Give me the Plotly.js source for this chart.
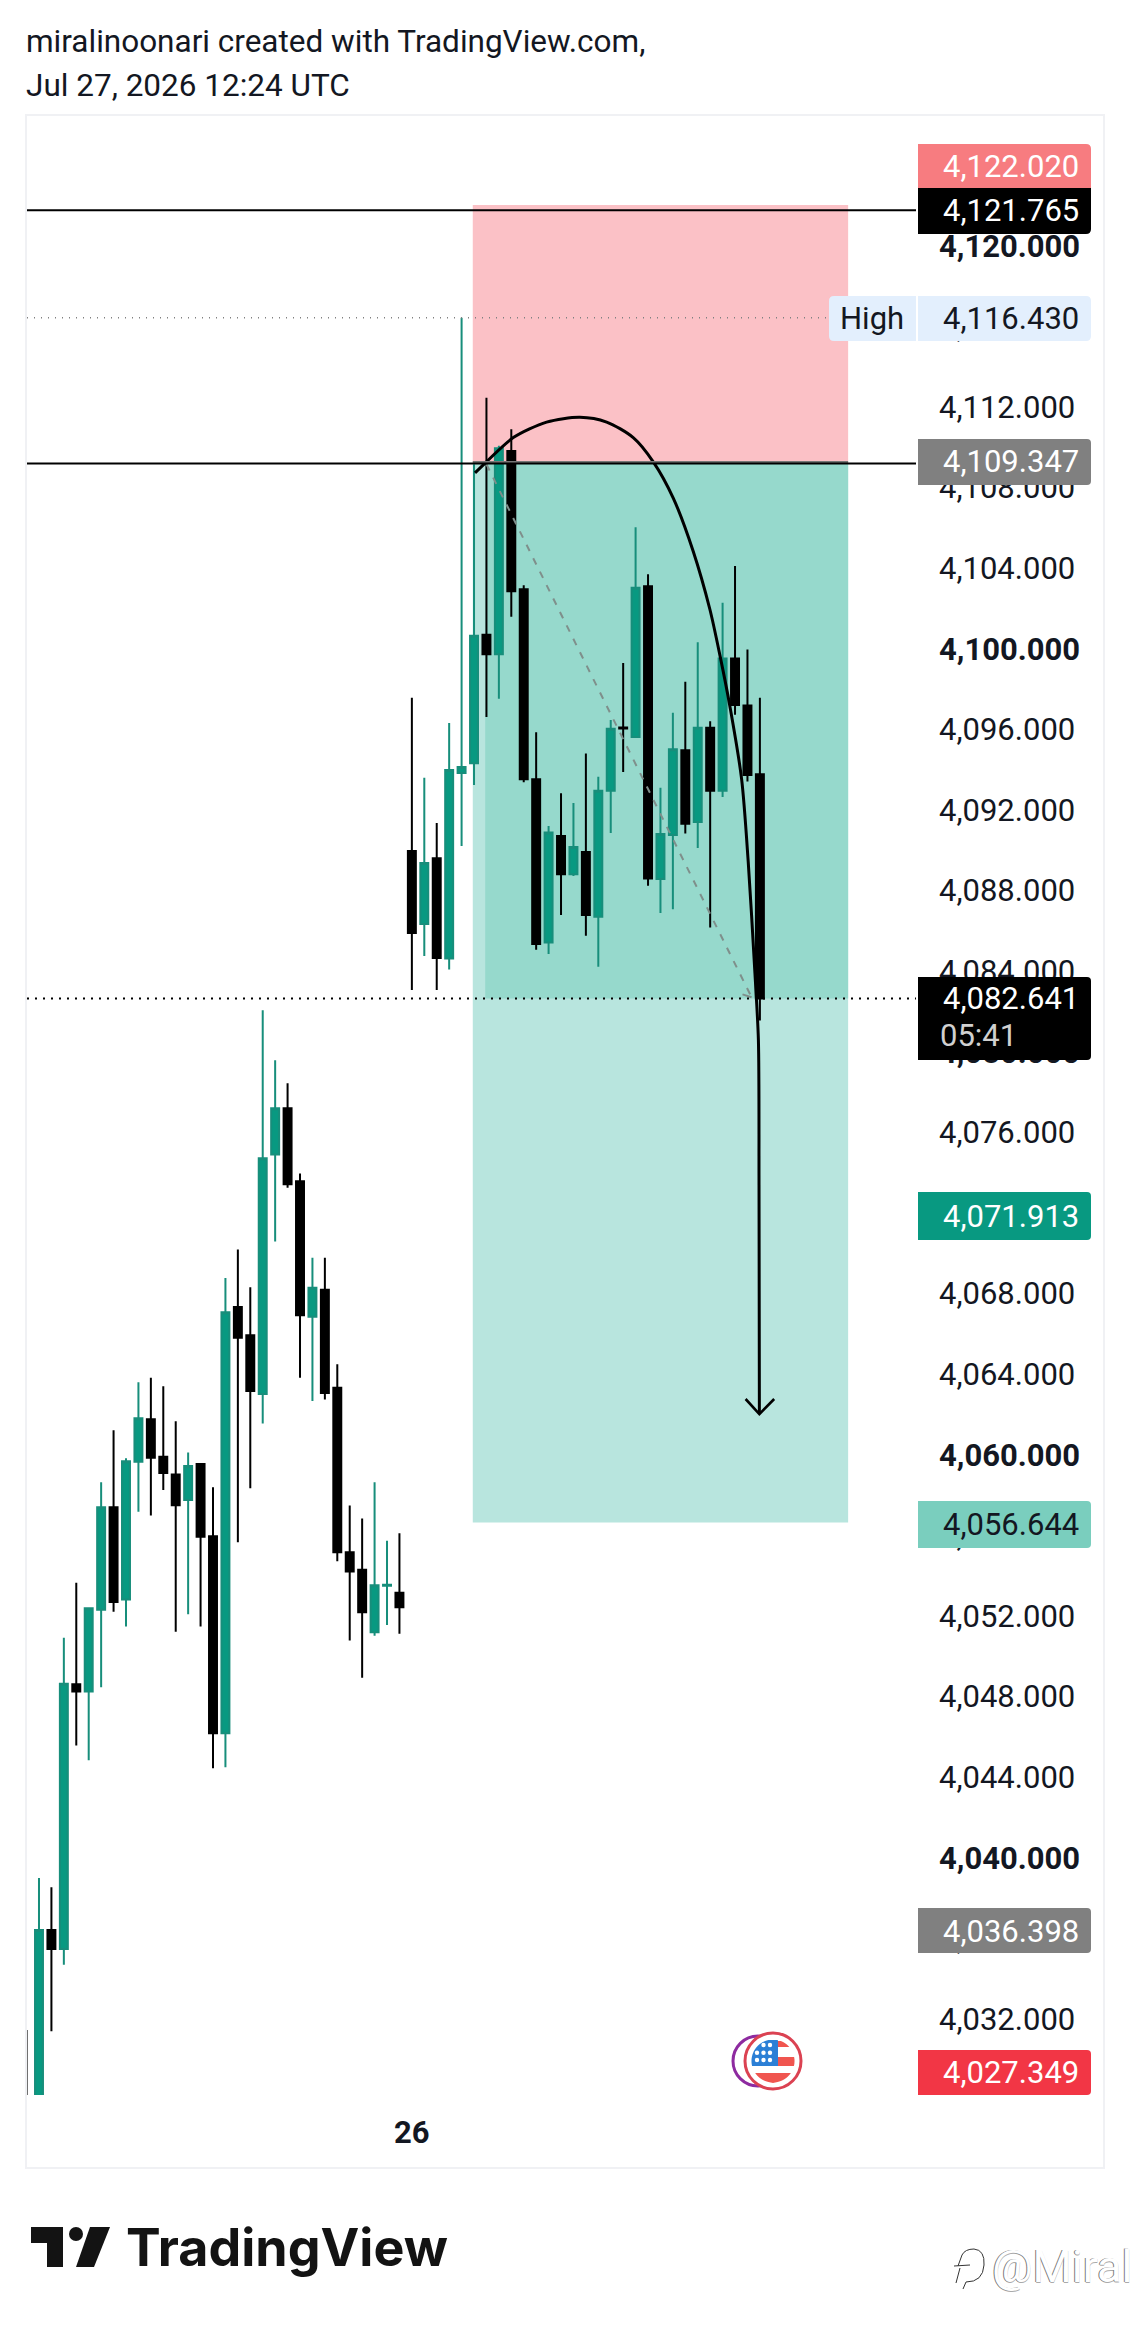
<!DOCTYPE html>
<html><head><meta charset="utf-8">
<script src="https://cdn.plot.ly/plotly-3.0.1.min.js"></script>
<style>html,body{margin:0;padding:0;background:#fff}</style></head>
<body><div id="chart" style="width:1131px;height:2327px"></div>
<script>
const firstIndex = -1;
const openPrices = [4027.5,4027.35,4036.42,4035.48,4048.62,4048.26,4052.31,4057.40,4052.82,4059.66,4061.76,4059.91,4059.02,4057.76,4059.55,4055.96,4046.18,4067.33,4065.93,4063.02,4074.90,4077.20,4073.58,4066.85,4068.19,4063.33,4055.17,4054.29,4051.20,4053.50,4053.15,4089.97,4086.34,4089.61,4084.63,4093.84,4094.32,4100.70,4099.73,4109.81,4102.96,4093.53,4085.42,4090.71,4088.81,4089.92,4086.70,4092.95,4096.10,4095.62,4103.10,4088.57,4090.76,4094.97,4091.41,4096.08,4092.95,4099.52,4097.18,4093.77];
const highPrices = [4031.45,4039.00,4038.54,4050.92,4053.65,4052.44,4058.64,4061.22,4059.83,4063.60,4063.83,4063.40,4061.66,4060.11,4059.55,4058.39,4068.77,4070.19,4068.31,4082.06,4079.58,4078.44,4073.96,4069.78,4069.78,4064.49,4057.48,4056.84,4058.64,4055.73,4056.11,4097.57,4093.60,4091.36,4096.32,4116.43,4109.16,4112.46,4110.07,4110.89,4103.15,4095.86,4091.20,4092.83,4092.35,4094.80,4093.65,4096.46,4099.30,4106.03,4103.70,4093.10,4096.82,4098.36,4100.33,4096.41,4102.28,4104.11,4099.97,4097.57];
const lowPrices = [4027.0,4027.35,4031.39,4034.69,4045.58,4044.84,4048.46,4052.21,4051.48,4057.17,4056.99,4058.26,4051.22,4052.09,4051.48,4044.44,4044.49,4055.66,4058.34,4061.55,4070.59,4073.25,4063.83,4062.67,4062.74,4054.72,4050.79,4048.94,4051.02,4051.55,4051.12,4083.07,4084.75,4083.07,4084.08,4090.21,4093.24,4096.61,4097.52,4101.59,4093.38,4085.06,4084.85,4086.79,4088.72,4085.76,4084.22,4090.86,4093.89,4095.62,4088.24,4086.89,4087.08,4090.83,4090.11,4086.17,4092.64,4096.73,4093.41,4081.55];
const closePrices = [4027.0,4036.42,4035.48,4048.64,4048.26,4052.39,4057.40,4052.69,4059.68,4061.81,4059.86,4059.10,4057.50,4059.45,4055.93,4046.18,4067.07,4065.81,4063.17,4074.72,4077.20,4073.43,4066.92,4068.29,4063.07,4055.17,4054.21,4052.19,4053.53,4053.55,4052.44,4085.90,4089.37,4084.65,4093.99,4094.13,4100.65,4099.73,4109.95,4102.86,4093.53,4085.35,4090.88,4088.81,4090.16,4086.79,4092.95,4096.03,4096.05,4103.03,4088.60,4090.81,4095.02,4091.32,4096.08,4092.95,4099.52,4097.21,4093.74,4082.641];

const tickPrices = [4032,4036,4040,4044,4048,4052,4056,4060,4064,4068,4072,4076,4080,4084,4088,4092,4096,4100,4104,4108,4112,4116,4120];
const boldTicks = [4040,4060,4080,4100,4120];

const stopPrice = 4122.020, entryPrice = 4109.347, targetPrice = 4056.644, lastPrice = 4082.641, dayHigh = 4116.430, upperLine = 4121.765;
const entryLevelDrawn = 4109.20;
const toolStart = 34.9, toolProfitStart = 35.9, toolEnd = 65.1;

const curveIndex = [35.08,36.0,38.16,40.84,43.52,45.67,47.81,49.42,51.03,52.64,53.98,54.79,55.59,56.53,57.06,57.6,57.88,57.93,57.96];
const curvePrice = [4108.73,4109.28,4110.48,4111.25,4111.49,4111.25,4110.48,4109.28,4107.48,4104.83,4101.95,4099.66,4097.14,4093.53,4089.44,4083.91,4080.59,4073.39,4062.02];
const arrowIndex = [56.85,57.96,59.15];
const arrowPrice = [4062.77,4062.02,4062.77];
const dashIndex = [36.0,57.33];
const dashPrice = [4109.16,4082.71];
const dashTipIndex = [56.6,57.33];
const dashTipPrice = [4082.85,4082.71];
const starX = [757,763.5,770];
const starY = [2045,2052.7,2060];

const L=27,R=916,T=115,B=2095;
const px = v => (v-L)/(R-L);
const py = v => (B-v)/(B-T);
const P = pts => 'M'+pts.map(p=>px(p[0])+','+py(p[1])).join('L')+'Z';
const FONT='Roboto, sans-serif';
function round(x0,y0,x1,y1,rTL,rTR,rBR,rBL){
  const c=(x,y)=>px(x)+','+py(y);
  return 'M'+c(x0+rTL,y0)+'L'+c(x1-rTR,y0)+'Q'+c(x1,y0)+' '+c(x1,y0+rTR)+'L'+c(x1,y1-rBR)+'Q'+c(x1,y1)+' '+c(x1-rBR,y1)+'L'+c(x0+rBL,y1)+'Q'+c(x0,y1)+' '+c(x0,y1-rBL)+'L'+c(x0,y0+rTL)+'Q'+c(x0,y0)+' '+c(x0+rTL,y0)+'Z';
}
const box=(x0,y0,x1,y1,color,rs)=>({type:'path',xref:'paper',yref:'paper',layer:'above',path:round(x0,y0,x1,y1,...(rs||[0,4,4,0])),fillcolor:color,line:{width:0}});
const disc=(cx,cy,r,fill,stroke,w)=>({type:'circle',xref:'paper',yref:'paper',layer:'above',x0:px(cx-r),x1:px(cx+r),y0:py(cy-r),y1:py(cy+r),fillcolor:fill,line:{color:stroke,width:w}});
const seg=(cx,cy,r,rect,color)=>{
  const [x0,y0,x1,y1]=rect, pts=[];
  for(let y=y0;y<=y1;y+=1){const h=Math.sqrt(Math.max(0,r*r-(y-cy)*(y-cy)));pts.push([Math.min(x1,cx+h),y]);}
  for(let y=y1;y>=y0;y-=1){const h=Math.sqrt(Math.max(0,r*r-(y-cy)*(y-cy)));pts.push([Math.max(x0,cx-h),y]);}
  return {type:'path',xref:'paper',yref:'paper',layer:'above',path:P(pts),fillcolor:color,line:{width:0}};
};
const txt=(t,x,y,size,color,anchor,extra)=>Object.assign({xref:'paper',yref:'paper',x:px(x),y:py(y),text:t,showarrow:false,xanchor:anchor||'right',yanchor:'middle',borderpad:0,font:{family:FONT,size:size,color:color}},extra||{});

const stars=[];
starY.forEach((y,r)=>starX.forEach((x,c)=>{ if(!(r===0&&c===0)) stars.push(disc(x,y,2.2,'#ffffff','#ffffff',0)); }));

const shapes=[
 {type:'rect',xref:'paper',yref:'paper',layer:'below',x0:px(26),x1:px(1104),y0:py(115),y1:py(2168),line:{color:'#F0F1F4',width:2},fillcolor:'#ffffff'},
 {type:'rect',xref:'x',yref:'y',layer:'below',x0:toolStart,x1:toolEnd,y0:entryLevelDrawn,y1:stopPrice,fillcolor:'#FBC1C6',line:{width:0}},
 {type:'rect',xref:'x',yref:'y',layer:'below',x0:toolStart,x1:toolEnd,y0:targetPrice,y1:entryLevelDrawn,fillcolor:'#B8E5DE',line:{width:0}},
 {type:'rect',xref:'x',yref:'y',layer:'below',x0:toolProfitStart,x1:toolEnd,y0:lastPrice,y1:entryLevelDrawn,fillcolor:'#96D9CC',line:{width:0}},
 {type:'line',xref:'x',yref:'y',layer:'above',x0:toolStart,x1:toolEnd,y0:entryLevelDrawn+0.05,y1:entryLevelDrawn+0.05,line:{color:'#777777',width:3}},
 {type:'line',xref:'paper',yref:'y',layer:'above',x0:0,x1:1,y0:upperLine,y1:upperLine,line:{color:'#000000',width:2}},
 {type:'line',xref:'paper',yref:'y',layer:'above',x0:0,x1:1,y0:entryLevelDrawn,y1:entryLevelDrawn,line:{color:'#000000',width:2}},
 {type:'line',xref:'paper',yref:'y',layer:'above',x0:0,x1:px(830),y0:dayHigh,y1:dayHigh,line:{color:'#808080',width:1.5,dash:'1px 6px'}},
 {type:'line',xref:'paper',yref:'y',layer:'above',x0:0,x1:1,y0:lastPrice,y1:lastPrice,line:{color:'#000000',width:2,dash:'2px 6px'}},
 box(918,144,1091,188,'#F77C80',[0,5,0,0]),
 box(918,188,1091,234,'#000000',[0,0,5,0]),
 box(829,296,916,341,'#E3EFFD',[5,0,0,5]),
 box(918,296,1091,341,'#E3EFFD',[0,5,5,0]),
 box(918,439,1091,485,'#808080'),
 box(918,977,1091,1060,'#000000'),
 box(918,1192,1091,1240,'#089981'),
 box(918,1501,1091,1548,'#7ACEBE'),
 box(918,1908,1091,1953,'#808080'),
 box(918,2050,1091,2095,'#F23645'),
 disc(758,2061,25,'#ffffff','#8E2BA0',3),
 disc(773,2061,28,'#ffffff','#DB4252',3),
 seg(773,2061,21.5,[751,2040,778,2066],'#2B7FD6'),
 seg(773,2061,21.5,[778,2041,795,2047],'#F0554F'),
 seg(773,2061,21.5,[778,2057,795,2066],'#F0554F'),
 seg(773,2061,21.5,[752,2073,795,2083],'#F0554F'),
 ...stars,
 {type:'path',xref:'paper',yref:'paper',layer:'above',path:P([[31,2227],[63,2227],[63,2267],[47,2267],[47,2243],[31,2243]]),fillcolor:'#131313',line:{width:0}},
 disc(76,2234,7,'#131313','#131313',0),
 {type:'path',xref:'paper',yref:'paper',layer:'above',path:P([[90,2227],[110,2227],[94,2267],[76,2267]]),fillcolor:'#131313',line:{width:0}},
 {type:'path',xref:'paper',yref:'paper',layer:'above',path:(()=>{const c=(x,y)=>px(x)+','+py(y);return 'M'+c(958,2266)+'L'+c(962,2255)+'Q'+c(965,2249)+' '+c(974,2249)+'Q'+c(985,2250)+' '+c(984,2265)+'Q'+c(983,2282)+' '+c(966,2282)+'L'+c(963,2289);})(),fillcolor:'rgba(0,0,0,0)',line:{color:'#333333',width:1}},
 {type:'line',xref:'paper',yref:'paper',layer:'above',x0:px(954),x1:px(970),y0:py(2266),y1:py(2265),line:{color:'#333333',width:1}},
 {type:'line',xref:'paper',yref:'paper',layer:'above',x0:px(960),x1:px(956),y0:py(2268),y1:py(2283),line:{color:'#333333',width:1}},
];

const fmt=v=>v.toLocaleString('en-US',{minimumFractionDigits:3,maximumFractionDigits:3});
const LR=1080;
const annotations=[
 txt(fmt(stopPrice),LR,166,31,'#ffffff'),
 txt(fmt(upperLine),LR,211,31,'#ffffff'),
 txt('High',905,318,31,'#131722'),
 txt(fmt(dayHigh),LR,318,31,'#131722'),
 txt(fmt(entryPrice),LR,462,31,'#ffffff'),
 txt(fmt(lastPrice),LR,998,31,'#ffffff'),
 txt('05:41',939,1035,31,'#D0D0D0','left'),
 txt('4,071.913',LR,1216,31,'#ffffff'),
 txt(fmt(targetPrice),LR,1524,31,'#131722'),
 txt('4,036.398',LR,1931,31,'#ffffff'),
 txt('4,027.349',LR,2072,31,'#ffffff'),
 txt('miralinoonari created with TradingView.com,',25,42,31.5,'#131722','left'),
 txt('Jul 27, 2026 12:24 UTC',25,85,31.5,'#131722','left'),
 txt('TradingView',125,2247,52,'#131313','left',{font:{family:'Inter, sans-serif',size:52,color:'#131313',weight:700}}),
 txt('@Miral',991,2266,45,'#ffffff','left',{font:{family:'Roboto, sans-serif',size:45,color:'#ffffff',shadow:'-1px 0 0 #777, 0 1px 0 #aaa'}}),
];

const candles={type:'candlestick',x:openPrices.map((_,i)=>i+firstIndex),open:openPrices,high:highPrices,low:lowPrices,close:closePrices,
 increasing:{line:{color:'#178E7B',width:2},fillcolor:'#089981'},
 decreasing:{line:{color:'#000000',width:2},fillcolor:'#000000'},
 whiskerwidth:0,hoverinfo:'skip',showlegend:false};
const lineT=(x,y,color,width,extra)=>({type:'scatter',mode:'lines',x,y,hoverinfo:'skip',showlegend:false,line:Object.assign({color,width},extra||{})});
const data=[
 lineT(dashIndex,dashPrice,'#7F8F8B',2,{dash:'7px 8px'}),
 lineT(dashTipIndex,dashTipPrice,'#7F8F8B',2),
 candles,
 lineT(curveIndex,curvePrice,'#000000',3,{shape:'spline',smoothing:0.8}),
 lineT(arrowIndex,arrowPrice,'#000000',2.6),
];
const layout={width:1131,height:2327,margin:{l:L,r:1131-R,t:T,b:2327-B,pad:0},paper_bgcolor:'#ffffff',plot_bgcolor:'rgba(0,0,0,0)',
 showlegend:false,boxgap:0.36,boxgroupgap:0,boxmode:'overlay',dragmode:false,hovermode:false,
 xaxis:{range:[-0.965,70.56],showgrid:false,zeroline:false,showline:false,ticks:'',tickmode:'array',tickvals:[30],ticktext:['<b>26</b>'],
  tickfont:{family:FONT,size:31,color:'#131722'},ticklabelstandoff:16,rangeslider:{visible:false},fixedrange:true},
 yaxis:{range:[4028.23,4126.49],side:'right',showgrid:false,zeroline:false,showline:false,ticks:'',tickmode:'array',tickvals:tickPrices,
  ticktext:tickPrices.map(v=>{const s=fmt(v);return boldTicks.includes(v)?'<b>'+s+'</b>':s;}),
  tickfont:{family:FONT,size:31,color:'#131722'},ticklabelstandoff:22,fixedrange:true},
 shapes,annotations};
Plotly.newPlot('chart',data,layout,{displayModeBar:false,staticPlot:true});
</script></body></html>
